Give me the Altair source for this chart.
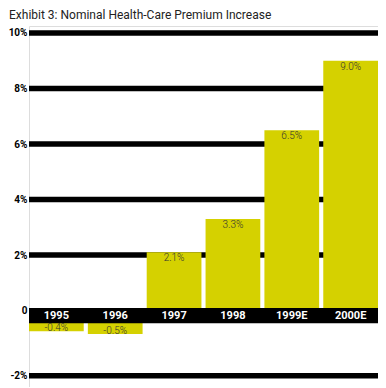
import altair as alt
import pandas as pd

years = ["1995", "1996", "1997", "1998", "1999E", "2000E"]
values = [-0.4, -0.5, 2.1, 3.3, 6.5, 9.0]
value_labels = ["-0.4%", "-0.5%", "2.1%", "3.3%", "6.5%", "9.0%"]
grid_values = [10, 8, 6, 4, 2, -2]
tick_values = [10, 8, 6, 4, 2, 0, -2]
zero_line = [0]

BAR = "#D5D100"
NEG_SHIFT = 9.5
FONT = "Roboto"

bars_df = pd.DataFrame({"year": years, "value": values, "label": value_labels})
grid_df = pd.DataFrame({"g": grid_values})
zero_df = pd.DataFrame({"z": zero_line})

yscale = alt.Scale(domain=[-2.75, 10.25], nice=False, zero=False)
xscale = alt.Scale(domain=years, paddingInner=0.07, paddingOuter=0)

yaxis = alt.Axis(
    values=tick_values,
    labelExpr="datum.value == 0 ? '0' : datum.value + '%'",
    domain=False, ticks=False, grid=False, title=None,
    labelFont=FONT, labelFontWeight="bold", labelFontSize=10, labelColor="#000",
    labelPadding=2,
    labelOffset={"condition": {"test": "datum.value < 0", "value": NEG_SHIFT}, "value": 0},
)

base_y = alt.Y("g:Q", scale=yscale, axis=yaxis)

grid_pos = alt.Chart(grid_df).transform_filter("datum.g > 0").mark_rule(
    color="#000", strokeWidth=5.5
).encode(y=base_y)
grid_neg = alt.Chart(grid_df).transform_filter("datum.g < 0").mark_rule(
    color="#000", strokeWidth=5.5, yOffset=NEG_SHIFT
).encode(y=alt.Y("g:Q", scale=yscale))

xenc = alt.X("year:N", scale=xscale, axis=None, sort=years)

bars_pos = alt.Chart(bars_df).transform_filter("datum.value > 0").mark_bar(
    color=BAR
).encode(x=xenc, y=alt.Y("value:Q", scale=yscale))
bars_neg = alt.Chart(bars_df).transform_filter("datum.value < 0").mark_bar(
    color=BAR, yOffset=NEG_SHIFT, y2Offset=NEG_SHIFT
).encode(x=xenc, y=alt.Y("value:Q", scale=yscale))

band = alt.Chart(zero_df).mark_rule(color="#000", strokeWidth=15.3, yOffset=5).encode(
    y=alt.Y("z:Q", scale=yscale)
)

year_text = alt.Chart(bars_df).mark_text(
    color="#fff", font=FONT, fontWeight="bold", fontSize=11, baseline="middle", yOffset=5
).encode(x=xenc, y=alt.Y("datum_zero:Q", scale=yscale), text="year:N").transform_calculate(
    datum_zero="0"
)

lab_pos = alt.Chart(bars_df).transform_filter("datum.value > 0").mark_text(
    color="#333", font=FONT, fontWeight=300, fontSize=10, baseline="top", dy=1
).encode(x=xenc, y=alt.Y("value:Q", scale=yscale), text="label:N")
lab_neg = alt.Chart(bars_df).transform_filter("datum.value < 0").mark_text(
    color="#333", font=FONT, fontWeight=300, fontSize=10, baseline="alphabetic", yOffset=NEG_SHIFT
).encode(x=xenc, y=alt.Y("value:Q", scale=yscale), text="label:N")

chart = alt.layer(
    grid_pos, grid_neg, bars_pos, bars_neg, band, year_text, lab_pos, lab_neg
).properties(
    width=349, height=361,
    autosize=alt.AutoSizeParams(type="none"),
    padding={"left": 21, "top": 18, "right": 0, "bottom": 0},
    title=alt.TitleParams(
        "Exhibit 3: Nominal Health-Care Premium Increase",
        anchor="start", frame="group", dx=-20, fontSize=12, font=FONT, fontWeight="normal",
        color="#222", offset=4,
    ),
).configure_view(stroke=None).configure(background="#fff")

chart.save("out.html", embed_options={"renderer": "svg", "actions": False})
